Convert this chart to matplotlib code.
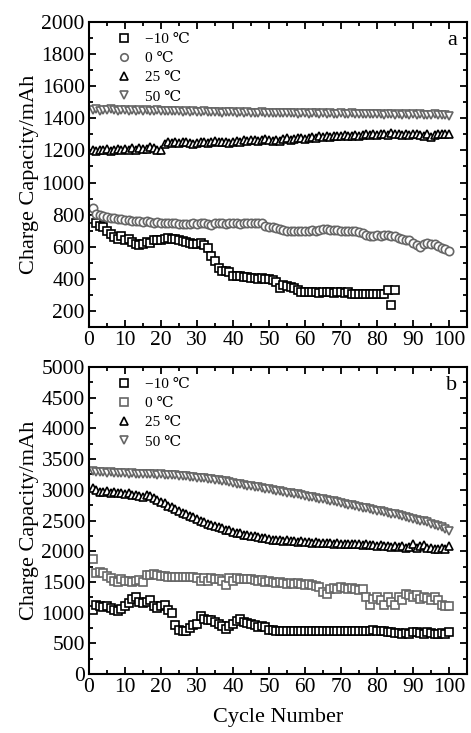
import matplotlib
matplotlib.use("Agg")
import matplotlib.pyplot as plt
from matplotlib.ticker import MultipleLocator

plt.rcParams['font.family'] = ['Liberation Serif', 'DejaVu Serif', 'Noto Sans CJK SC']
plt.rcParams['mathtext.fontset'] = 'stix'

# ---- panel a data ----
a_m10 = [770, 750, 730, 720, 700, 680, 660, 650, 670, 640,
         650, 630, 620, 610, 620, 630, 625, 640, 640, 645,
         650, 655, 650, 650, 640, 635, 630, 625, 620, 620,
         625, 610, 590, 540, 510, 470, 450, 450, 440, 420,
         415, 420, 410, 410, 405, 405, 400, 405, 400, 400,
         395, 380, 345, 360, 355, 350, 345, 330, 320, 315,
         318, 315, 316, 314, 318, 315, 316, 314, 316, 315,
         314, 316, 305, 306, 304, 305, 303, 306, 304, 305,
         304, 306, 330, 240, 330]
a_0 = [840, 805, 795, 790, 785, 780, 778, 772, 770, 768,
       765, 762, 760, 758, 757, 760, 755, 750, 752, 748,
       745, 748, 750, 746, 744, 742, 740, 742, 745, 740,
       745, 750, 740, 735, 745, 748, 745, 742, 745, 748,
       745, 740, 745, 748, 745, 750, 748, 745, 730, 725,
       720, 715, 710, 705, 700, 698, 700, 700, 698, 700,
       698, 702, 700, 705, 710, 708, 706, 705, 702, 700,
       700, 700, 698, 695, 690, 685, 675, 665, 670, 672,
       670, 675, 672, 670, 665, 655, 650, 645, 640, 625,
       610, 600, 615, 625, 620, 615, 605, 595, 585, 575]
a_25 = [1200, 1195, 1205, 1200, 1210, 1198, 1205, 1208, 1200, 1210,
        1205, 1212, 1200, 1215, 1208, 1210, 1220, 1212, 1205, 1200,
        1240, 1250, 1245, 1252, 1248, 1255, 1250, 1245, 1240, 1248,
        1250, 1255, 1245, 1250, 1258, 1252, 1250, 1255, 1248, 1255,
        1260, 1255, 1265, 1258, 1262, 1268, 1260, 1265, 1270, 1262,
        1258, 1265, 1260, 1270, 1275, 1268, 1272, 1280, 1275, 1270,
        1278, 1285, 1280, 1288, 1282, 1290, 1285, 1292, 1288, 1290,
        1295, 1288, 1292, 1298, 1290, 1295, 1300, 1296, 1302, 1298,
        1305, 1300, 1298, 1306, 1302, 1300, 1295, 1305, 1298, 1300,
        1302, 1296, 1290, 1300, 1285, 1298, 1305, 1300, 1302, 1300]
a_50 = [1450, 1455, 1448, 1452, 1450, 1455, 1450, 1448, 1452, 1450,
        1445, 1450, 1448, 1452, 1446, 1450, 1448, 1445, 1450, 1447,
        1445, 1448, 1443, 1447, 1445, 1440, 1446, 1442, 1445, 1440,
        1438, 1443, 1440, 1442, 1438, 1440, 1436, 1440, 1438, 1440,
        1435, 1438, 1435, 1440, 1432, 1436, 1434, 1438, 1432, 1435,
        1433, 1436, 1430, 1434, 1432, 1430, 1435, 1428, 1432, 1430,
        1428, 1432, 1430, 1428, 1432, 1426, 1430, 1428, 1426, 1430,
        1428, 1425, 1430, 1426, 1428, 1424, 1428, 1425, 1427, 1424,
        1426, 1422, 1426, 1424, 1422, 1426, 1423, 1425, 1421, 1424,
        1422, 1425, 1420, 1423, 1421, 1424, 1420, 1422, 1420, 1415]

# ---- panel b data ----
b_m10 = [1050, 1120, 1110, 1090, 1100, 1080, 1050, 1020, 1060, 1100,
         1150, 1220, 1250, 1180, 1150, 1180, 1200, 1100, 1080, 1100,
         1120, 1050, 1000, 800, 720, 700, 700, 750, 800, 820,
         950, 900, 880, 880, 850, 820, 780, 730, 780, 820,
         860, 900, 850, 830, 820, 800, 760, 780, 760, 720,
         710, 700, 705, 700, 698, 702, 700, 698, 700, 702,
         700, 698, 700, 702, 700, 698, 700, 702, 700, 698,
         700, 702, 700, 698, 700, 702, 700, 698, 720, 700,
         700, 705, 680, 685, 670, 672, 650, 660, 650, 680,
         680, 670, 650, 680, 660, 650, 650, 660, 650, 680]
b_0 = [1880, 1650, 1660, 1640, 1600, 1560, 1520, 1500, 1550, 1510,
       1520, 1500, 1510, 1530, 1500, 1620, 1610, 1630, 1610, 1600,
       1590, 1580, 1580, 1580, 1575, 1580, 1580, 1575, 1580, 1570,
       1520, 1560, 1520, 1570, 1540, 1550, 1520, 1450, 1560, 1520,
       1560, 1550, 1540, 1550, 1540, 1530, 1520, 1530, 1500, 1520,
       1500, 1480, 1500, 1490, 1470, 1480, 1460, 1480, 1470, 1450,
       1460, 1450, 1440, 1420, 1330, 1300, 1380, 1400, 1390, 1410,
       1400, 1380, 1400, 1390, 1370, 1380, 1250, 1120, 1220, 1260,
       1200, 1120, 1250, 1180, 1130, 1260, 1200, 1300, 1280, 1250,
       1280, 1220, 1250, 1230, 1200, 1250, 1200, 1120, 1110, 1100]
b_25 = [3030, 2990, 2970, 2960, 2980, 2950, 2960, 2940, 2950, 2930,
        2940, 2920, 2910, 2900, 2890, 2920, 2900, 2860, 2830, 2800,
        2780, 2740, 2720, 2690, 2660, 2630, 2600, 2580, 2550, 2520,
        2500, 2470, 2450, 2430, 2410, 2390, 2370, 2350, 2340, 2320,
        2300, 2290, 2270, 2260, 2250, 2240, 2230, 2220, 2210, 2200,
        2190, 2185, 2180, 2170, 2175, 2160, 2165, 2150, 2160, 2145,
        2150, 2140, 2145, 2135, 2140, 2130, 2135, 2125, 2130, 2120,
        2125, 2115, 2120, 2110, 2115, 2100, 2110, 2095, 2100, 2090,
        2095, 2080, 2090, 2075, 2085, 2070, 2080, 2060, 2075, 2110,
        2050, 2080, 2100, 2060, 2050, 2040, 2030, 2050, 2040, 2080]
b_50 = [3300, 3290, 3285, 3290, 3280, 3285, 3275, 3280, 3270, 3275,
        3265, 3270, 3260, 3265, 3255, 3260, 3250, 3255, 3245, 3250,
        3240, 3245, 3235, 3240, 3230, 3225, 3220, 3215, 3210, 3200,
        3195, 3190, 3180, 3175, 3165, 3160, 3150, 3140, 3130, 3115,
        3100, 3090, 3080, 3070, 3060, 3050, 3040, 3030, 3020, 3005,
        2995, 2985, 2975, 2965, 2955, 2945, 2935, 2925, 2915, 2900,
        2890, 2880, 2870, 2858, 2845, 2835, 2822, 2810, 2798, 2785,
        2772, 2760, 2748, 2735, 2722, 2710, 2698, 2685, 2672, 2660,
        2648, 2635, 2622, 2610, 2598, 2585, 2572, 2560, 2545, 2530,
        2515, 2500, 2485, 2470, 2450, 2430, 2410, 2390, 2360, 2330]

labels = ['\u221210 \u2103', '0 \u2103', '25 \u2103', '50 \u2103']
GRAY = '#666666'


def cycles(vals):
    return list(range(1, len(vals) + 1))


def style_axis(ax, ymin, ymax, ymajor, yminor):
    ax.set_xlim(0, 105)
    ax.set_ylim(ymin, ymax)
    ax.xaxis.set_major_locator(MultipleLocator(10))
    ax.xaxis.set_minor_locator(MultipleLocator(5))
    ax.yaxis.set_major_locator(MultipleLocator(ymajor))
    ax.yaxis.set_minor_locator(MultipleLocator(yminor))
    ax.tick_params(which='both', direction='in', top=True, right=True,
                   labelsize=15.5, width=1.3, pad=3)
    ax.tick_params(which='major', length=5)
    ax.tick_params(which='minor', length=3)
    for s in ax.spines.values():
        s.set_linewidth(1.5)
    ax.set_ylabel('Charge Capacity/mAh', fontsize=16, labelpad=2)


fig = plt.figure(figsize=(4.71, 7.33), dpi=100)
W, H = 471, 733
ax1 = fig.add_axes([89 / W, 1 - 327 / H, 378 / W, 305 / H])
ax2 = fig.add_axes([89 / W, 1 - 674 / H, 378 / W, 307 / H])

mk = dict(linestyle='none', markersize=6, markeredgewidth=1.2, markerfacecolor='white')

ax1.plot(cycles(a_m10), a_m10, marker='s', color='black', label=labels[0], **mk)
ax1.plot(cycles(a_0), a_0, marker='o', color=GRAY, label=labels[1], **mk)
ax1.plot(cycles(a_25), a_25, marker='^', color='black', label=labels[2], **mk)
ax1.plot(cycles(a_50), a_50, marker='v', color=GRAY, label=labels[3], **mk)
style_axis(ax1, 100, 2000, 200, 100)
ax1.text(0.975, 0.94, 'a', transform=ax1.transAxes, ha='right', va='center', fontsize=16)

ax2.plot(cycles(b_m10), b_m10, marker='s', color='black', label=labels[0], **mk)
ax2.plot(cycles(b_0), b_0, marker='s', color=GRAY, label=labels[1], **mk)
ax2.plot(cycles(b_25), b_25, marker='^', color='black', label=labels[2], **mk)
ax2.plot(cycles(b_50), b_50, marker='v', color=GRAY, label=labels[3], **mk)
style_axis(ax2, 0, 5000, 500, 250)
ax2.text(0.975, 0.94, 'b', transform=ax2.transAxes, ha='right', va='center', fontsize=16)
ax2.set_xlabel('Cycle Number', fontsize=16, labelpad=8)

for ax in (ax1, ax2):
    ax.legend(loc='upper left', bbox_to_anchor=(0.04, 1.0), frameon=False,
              fontsize=11, handletextpad=0.8, labelspacing=0.35,
              borderaxespad=0.3, markerscale=0.9, borderpad=0.4,
              handlelength=1.2)

fig.savefig('out.png', dpi=100)
